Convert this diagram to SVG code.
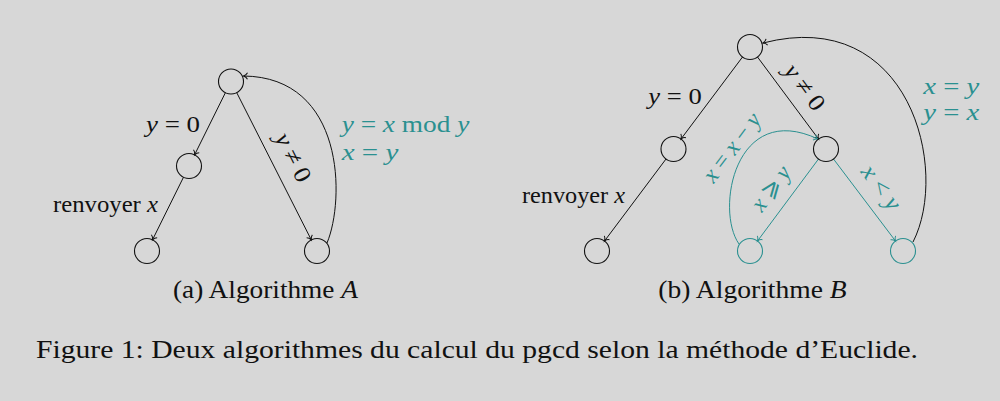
<svg xmlns="http://www.w3.org/2000/svg" width="1000" height="401" viewBox="0 0 1000 401">
<style>
text { font-family: "Liberation Serif", "DejaVu Serif", serif; font-size: 24px; fill: #111111; }
.t { fill: #2a9090; }
.i { font-style: italic; }
.n { fill: none; stroke: #111111; stroke-width: 1.1; }
.nt { fill: none; stroke: #2a9090; stroke-width: 1.1; }
.e { fill: none; stroke: #111111; stroke-width: 1; marker-end: url(#ak); }
.et { fill: none; stroke: #2a9090; stroke-width: 1; marker-end: url(#at); }
.cap { font-size: 25px; }
</style>
<defs>
<marker id="ak" viewBox="-5 -4 6 8" refX="0" refY="0" markerWidth="6" markerHeight="8" markerUnits="userSpaceOnUse" orient="auto" overflow="visible">
<path d="M-4,-3.2 C-3,-1.2 -1,-0.3 0,0 C-1,0.3 -3,1.2 -4,3.2" fill="none" stroke="#111111" stroke-width="1"/>
</marker>
<marker id="at" viewBox="-5 -4 6 8" refX="0" refY="0" markerWidth="6" markerHeight="8" markerUnits="userSpaceOnUse" orient="auto" overflow="visible">
<path d="M-4,-3.2 C-3,-1.2 -1,-0.3 0,0 C-1,0.3 -3,1.2 -4,3.2" fill="none" stroke="#2a9090" stroke-width="1"/>
</marker>
</defs>
<rect x="0" y="0" width="1000" height="401" fill="#d7d7d7"/>

<g id="connectors">
<path class="e" d="M225.4,92.7 L194.6,154.8"/>
<path class="e" d="M183.5,177.2 L152.5,239.8"/>
<path class="e" d="M236.7,92.6 L311.3,239.9"/>
<path class="e" d="M327,243 C345,200 345,77 243.5,76"/>
<path class="e" d="M742.5,57 L681,139"/>
<path class="e" d="M666,159 L604.5,241"/>
<path class="e" d="M757.5,57 L818.5,139"/>
<path class="et" d="M818.5,159 L757.5,241"/>
<path class="et" d="M833.5,159 L895.5,241"/>
<path class="e" d="M913,242 C950,170 910,5 763,43"/>
<path class="et" d="M739,244 C715,210 735,100 818,139"/>
</g>

<g id="a-root"><circle class="n" cx="231" cy="81.5" r="12.5"/></g>
<g id="a-left"><circle class="n" cx="189" cy="166" r="12.5"/></g>
<g id="a-leftleaf"><circle class="n" cx="147" cy="251" r="12.5"/></g>
<g id="a-rightleaf"><circle class="n" cx="317" cy="251" r="12.5"/></g>

<g id="b-root"><circle class="n" cx="750" cy="47" r="12.5"/></g>
<g id="b-left"><circle class="n" cx="673.5" cy="149" r="12.5"/></g>
<g id="b-right"><circle class="n" cx="826" cy="149" r="12.5"/></g>
<g id="b-leftleaf"><circle class="n" cx="597" cy="251" r="12.5"/></g>
<g id="b-midleaf"><circle class="nt" cx="750" cy="251" r="12.5"/></g>
<g id="b-rightleaf"><circle class="nt" cx="903" cy="251" r="12.5"/></g>

<g id="labels">
<text x="146" y="131.5" textLength="54" lengthAdjust="spacingAndGlyphs"><tspan class="i">y</tspan> = 0</text>
<text x="53" y="211.7" textLength="105" lengthAdjust="spacingAndGlyphs">renvoyer <tspan class="i">x</tspan></text>
<text transform="translate(291.7,158.3) rotate(63.1)" x="0" y="6" text-anchor="middle" textLength="52" lengthAdjust="spacingAndGlyphs"><tspan class="i">y</tspan> ≠ 0</text>
<text class="t" x="341.7" y="131.7" textLength="127.6" lengthAdjust="spacingAndGlyphs"><tspan class="i">y</tspan> = <tspan class="i">x</tspan> mod <tspan class="i">y</tspan></text>
<text class="t" x="341.7" y="160" textLength="56.6" lengthAdjust="spacingAndGlyphs"><tspan class="i">x</tspan> = <tspan class="i">y</tspan></text>

<text x="648.3" y="104" textLength="53.4" lengthAdjust="spacingAndGlyphs"><tspan class="i">y</tspan> = 0</text>
<text x="522" y="203.3" textLength="103" lengthAdjust="spacingAndGlyphs">renvoyer <tspan class="i">x</tspan></text>
<text transform="translate(803.3,88.3) rotate(53.4)" x="0" y="6" text-anchor="middle" textLength="52" lengthAdjust="spacingAndGlyphs"><tspan class="i">y</tspan> ≠ 0</text>
<text class="t" x="923.3" y="94.3" textLength="56" lengthAdjust="spacingAndGlyphs"><tspan class="i">x</tspan> = <tspan class="i">y</tspan></text>
<text class="t" x="923.3" y="120" textLength="56" lengthAdjust="spacingAndGlyphs"><tspan class="i">y</tspan> = <tspan class="i">x</tspan></text>
<text class="t" transform="translate(734,149) rotate(-52.9)" x="0" y="5" text-anchor="middle" textLength="80" lengthAdjust="spacingAndGlyphs"><tspan class="i">x</tspan> = <tspan class="i">x</tspan> − <tspan class="i">y</tspan></text>
<text class="t" transform="translate(773,190) rotate(-53)" x="0" y="5" text-anchor="middle" textLength="50" lengthAdjust="spacingAndGlyphs"><tspan class="i">x</tspan> ⩾ <tspan class="i">y</tspan></text>
<text class="t" transform="translate(879,189) rotate(53)" x="0" y="5" text-anchor="middle" textLength="50" lengthAdjust="spacingAndGlyphs"><tspan class="i">x</tspan> &lt; <tspan class="i">y</tspan></text>

<text class="cap" x="173" y="298" textLength="185" lengthAdjust="spacingAndGlyphs">(a) Algorithme <tspan class="i">A</tspan></text>
<text class="cap" x="658.3" y="298.3" textLength="188.4" lengthAdjust="spacingAndGlyphs">(b) Algorithme <tspan class="i">B</tspan></text>
<text class="cap" x="36" y="357.7" textLength="882" lengthAdjust="spacingAndGlyphs">Figure 1: Deux algorithmes du calcul du pgcd selon la méthode d’Euclide.</text>
</g>
</svg>
